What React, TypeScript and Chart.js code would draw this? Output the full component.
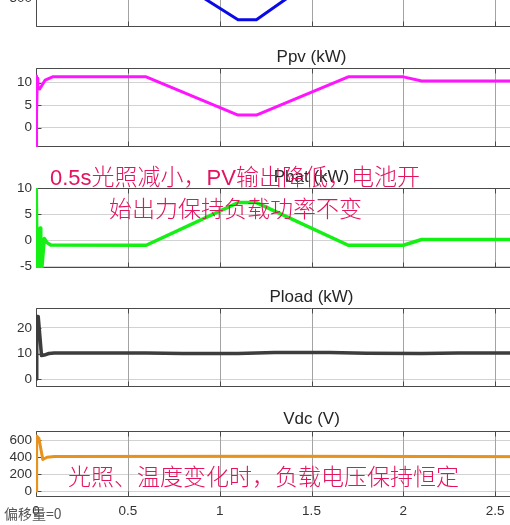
import React, { useEffect, useRef } from "react";
import { Chart, registerables } from "chart.js";

Chart.register(...registerables);

// ---- data ----
const X_MAX = 3;
const xTicks = [0, 0.5, 1, 1.5, 2, 2.5, 3];

const irrTime = [0, 0.6, 1.1, 1.2, 1.65, 3];
const irrValues = [1000, 1000, 200, 200, 1000, 1000];
const irrTicks = [500, 1000];

const ppvTime = [0, 0.002, 0.004, 0.007, 0.01, 0.02, 0.05, 0.09, 0.6, 1.1, 1.2, 1.7, 2.0, 2.1, 3];
const ppvValues = [-4.2, 11.5, 3, 11, 9, 8.6, 10.6, 11.3, 11.3, 2.8, 2.8, 11.3, 11.3, 10.4, 10.4];
const ppvTicks = [0, 5, 10];

const pbatTime = [0, 0.001, 0.006, 0.018, 0.022, 0.026, 0.032, 0.045, 0.06, 0.08, 0.6, 1.1, 1.2, 1.7, 2.0, 2.1, 3];
const pbatValues = [0, 10, -5.3, -5.3, 2.3, -5.3, -5.3, 0.3, -0.5, -0.95, -1.0, 7.2, 7.2, -1.0, -1.0, 0.1, 0.1];
const pbatTicks = [-5, 0, 5, 10];

const ploadTime = [0, 0.003, 0.005, 0.012, 0.03, 0.045, 0.07, 0.1, 0.6, 0.8, 1.1, 1.3, 1.6, 1.8, 2.1, 2.3, 3];
const ploadValues = [0, 0, 24.5, 24.5, 9.2, 9.4, 10, 10.2, 10.2, 10.0, 10.05, 10.4, 10.35, 10.1, 10.05, 10.2, 10.2];
const ploadTicks = [0, 10, 20];

const vdcTime = [0, 0.003, 0.004, 0.016, 0.037, 0.06, 0.1, 1.3, 3];
const vdcValues = [0, 0, 650, 620, 372, 400, 408, 410, 406];
const vdcTicks = [0, 200, 400, 600];

const annotation1a = "0.5s";
const annotation1b = "光照减小，";
const annotation1c = "PV";
const annotation1d = "输出降低，电池开";
const annotation2 = "始出力保持负载功率不变";
const annotation3 = "光照、温度变化时，负载电压保持恒定";
const offsetLabel = "偏移量=0";

// ---- styling ----
const CANVAS_W = 587;
const TICK_FONT = { family: "'Liberation Sans', Arial, sans-serif", size: 13.5 };
const TEXT_COLOR = "#333333";
const GRID_V = "#a3a3a3";
const GRID_H = "#d2d2d2";
const FRAME = "#4a4a4a";
const PINK = "#e3135f";

const framePlugin = {
  id: "frame",
  beforeDatasetsDraw(chart: any) {
    const { ctx, chartArea, scales } = chart;
    const { left, top, right, bottom } = chartArea;
    const L = Math.round(left) + 0.5;
    const T = Math.round(top) + 0.5;
    const B = Math.round(bottom) - 0.5;
    ctx.save();
    ctx.lineWidth = 1;
    ctx.strokeStyle = GRID_V;
    ctx.beginPath();
    xTicks.forEach((v) => {
      const px = Math.round(scales.x.getPixelForValue(v)) + 0.5;
      ctx.moveTo(px, T);
      ctx.lineTo(px, B);
    });
    ctx.stroke();
    ctx.strokeStyle = FRAME;
    ctx.beginPath();
    ctx.moveTo(right, T);
    ctx.lineTo(L, T);
    ctx.lineTo(L, B);
    ctx.lineTo(right, B);
    const tl = 5;
    xTicks.forEach((v) => {
      const px = Math.round(scales.x.getPixelForValue(v)) + 0.5;
      ctx.moveTo(px, T);
      ctx.lineTo(px, T + tl);
      ctx.moveTo(px, B);
      ctx.lineTo(px, B - tl);
    });
    scales.y.ticks.forEach((t: any) => {
      const py = Math.round(scales.y.getPixelForValue(t.value)) + 0.5;
      ctx.moveTo(L, py);
      ctx.lineTo(L + tl, py);
    });
    ctx.stroke();
    ctx.restore();
  },
};

type Spec = {
  time: number[];
  values: number[];
  yTicks: number[];
  color: string;
  width: number;
  title?: string;
  canvasTop: number;
  height: number;
  titlePadBottom?: number;
  yMin: number;
  yMax: number;
  xHeight: number;
  showX: boolean;
};

function zeroPadding(sc: any) {
  sc.paddingTop = 0;
  sc.paddingBottom = 0;
  sc.paddingLeft = 0;
  sc.paddingRight = 0;
}

function makeConfig(s: Spec): any {
  return {
    type: "line",
    data: {
      datasets: [
        {
          data: s.time.map((x, i) => ({ x, y: s.values[i] })),
          borderColor: s.color,
          borderWidth: s.width,
          pointRadius: 0,
          tension: 0,
          fill: false,
          borderJoinStyle: "round",
        },
      ],
    },
    options: {
      responsive: false,
      animation: false,
      events: [],
      layout: { autoPadding: false, padding: 0 },
      plugins: {
        legend: { display: false },
        tooltip: { enabled: false },
        title: s.title
          ? {
              display: true,
              text: s.title,
              fullSize: false,
              color: "#262626",
              font: { family: "'Liberation Sans', Arial, sans-serif", size: 17, weight: "normal", lineHeight: 1.2 },
              padding: { top: 0, bottom: s.titlePadBottom || 0 },
            }
          : { display: false },
      },
      scales: {
        x: {
          type: "linear",
          display: true,
          min: 0,
          max: X_MAX,
          border: { display: false },
          grid: { display: false, drawTicks: false },
          afterBuildTicks: (sc: any) => {
            sc.ticks = xTicks.map((v) => ({ value: v }));
          },
          ticks: {
            display: s.showX,
            padding: 6,
            font: TICK_FONT,
            color: TEXT_COLOR,
            maxRotation: 0,
            minRotation: 0,
            autoSkip: false,
            callback: (v: any) => String(v),
          },
          afterFit: (sc: any) => {
            sc.height = s.xHeight;
            zeroPadding(sc);
          },
        },
        y: {
          type: "linear",
          min: s.yMin,
          max: s.yMax,
          border: { display: false },
          grid: { color: GRID_H, drawTicks: false },
          afterBuildTicks: (sc: any) => {
            sc.ticks = s.yTicks.map((v) => ({ value: v }));
          },
          ticks: {
            padding: 4,
            font: TICK_FONT,
            color: TEXT_COLOR,
            autoSkip: false,
            callback: (v: any) => String(v),
          },
          afterFit: (sc: any) => {
            sc.width = 36;
            zeroPadding(sc);
          },
        },
      },
    },
    plugins: [framePlugin],
  };
}

const specs: Spec[] = [
  {
    time: irrTime, values: irrValues, yTicks: irrTicks, color: "#0a0ae6", width: 3,
    canvasTop: -60, height: 97, yMin: 100, yMax: 1300, xHeight: 10, showX: false,
  },
  {
    time: ppvTime, values: ppvValues, yTicks: ppvTicks, color: "#ff14ff", width: 3, title: "Ppv (kW)",
    canvasTop: 47, height: 110, titlePadBottom: 0.6, yMin: -4.29, yMax: 13.27, xHeight: 10, showX: false,
  },
  {
    time: pbatTime, values: pbatValues, yTicks: pbatTicks, color: "#14f014", width: 3.5, title: "Pbat (kW)",
    canvasTop: 167, height: 111, titlePadBottom: 0.6, yMin: -5.38, yMax: 10, xHeight: 10, showX: false,
  },
  {
    time: ploadTime, values: ploadValues, yTicks: ploadTicks, color: "#3d3d3d", width: 3.5, title: "Pload (kW)",
    canvasTop: 287, height: 110, titlePadBottom: 0.6, yMin: -3.1, yMax: 27.8, xHeight: 10, showX: false,
  },
  {
    time: vdcTime, values: vdcValues, yTicks: vdcTicks, color: "#e8921e", width: 3, title: "Vdc (V)",
    canvasTop: 409, height: 116, titlePadBottom: 1.6, yMin: -71, yMax: 710, xHeight: 28, showX: true,
  },
];

function Subplot({ spec }: { spec: Spec }) {
  const ref = useRef<HTMLCanvasElement>(null);
  useEffect(() => {
    const chart = new Chart(ref.current as HTMLCanvasElement, makeConfig(spec));
    return () => chart.destroy();
  }, [spec]);
  return (
    <canvas
      ref={ref}
      width={CANVAS_W}
      height={spec.height}
      style={{ position: "absolute", left: 0, top: spec.canvasTop, width: CANVAS_W, height: spec.height }}
    />
  );
}

const noteStyle: React.CSSProperties = {
  position: "absolute",
  fontFamily: "'Liberation Sans', 'Noto Sans CJK SC', sans-serif",
  fontSize: 23,
  lineHeight: "23px",
  color: PINK,
  whiteSpace: "nowrap",
  zIndex: 2,
};
const cjkStyle: React.CSSProperties = { fontWeight: 300 };

export default function App() {
  return (
    <div
      style={{
        position: "fixed",
        left: 0,
        top: 0,
        width: 510,
        height: 525,
        overflow: "hidden",
        background: "#ffffff",
      }}
    >
      {specs.map((s, i) => (
        <Subplot key={i} spec={s} />
      ))}
      <div style={{ ...noteStyle, left: 50, top: 166 }}>
        <span style={{ fontSize: 22 }}>{annotation1a}</span>
        <span style={cjkStyle}>{annotation1b}</span>
        <span style={{ fontSize: 22 }}>{annotation1c}</span>
        <span style={cjkStyle}>{annotation1d}</span>
      </div>
      <div style={{ ...noteStyle, ...cjkStyle, left: 109, top: 198 }}>{annotation2}</div>
      <div style={{ ...noteStyle, ...cjkStyle, left: 68, top: 466 }}>{annotation3}</div>
      <div
        style={{
          position: "absolute",
          left: 4,
          top: 505,
          fontFamily: "'Noto Sans CJK SC', 'Liberation Sans', sans-serif",
          fontSize: 14,
          lineHeight: "16px",
          color: "#555555",
          whiteSpace: "nowrap",
          zIndex: 2,
        }}
      >
        {offsetLabel}
      </div>
    </div>
  );
}
